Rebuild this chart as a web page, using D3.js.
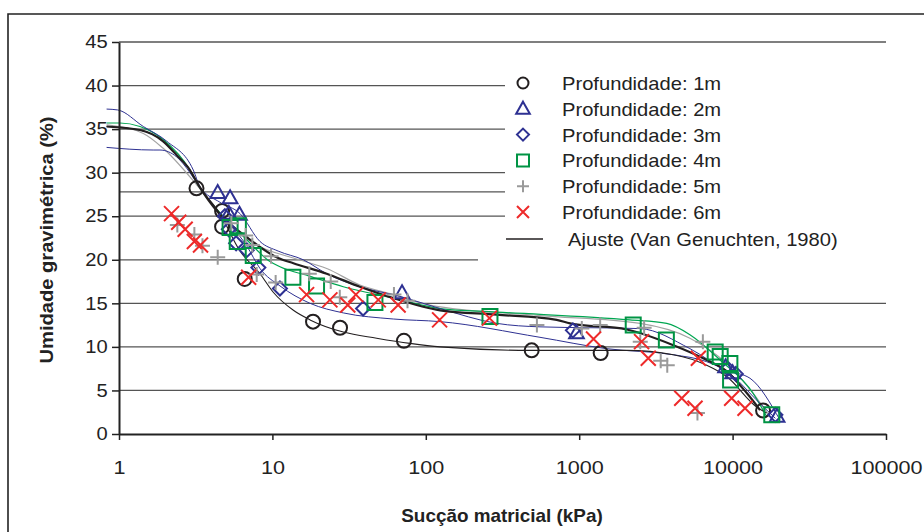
<!DOCTYPE html>
<html>
<head>
<meta charset="utf-8">
<script src="https://cdn.jsdelivr.net/npm/d3@7"></script>
<style>
  body { margin: 0; background: #fff; }
  svg { display: block; font-family: "Liberation Sans", Arial, sans-serif; }
</style>
</head>
<body>
<svg id="chart" width="924" height="532"></svg>
<script>
// measured points [suction kPa, moisture %]
var depth1 = [[3.2,28.2],[4.7,25.6],[4.7,23.8],[6.6,17.8],[18.4,12.9],[27.6,12.2],[72,10.7],[490,9.6],[1380,9.3],[15800,2.7]];
var depth2 = [[4.4,27.7],[5.3,27.1],[5.2,25.3],[6.1,25.2],[70,16.2],[960,11.6],[9000,7.7],[10000,7.0],[19500,2.0]];
var depth3 = [[4.9,25.0],[5.2,23.5],[5.8,21.9],[6.8,21.1],[8.1,19.1],[11.2,16.7],[39,14.4],[910,11.9],[9300,7.5],[10500,6.9],[19000,2.2]];
var depth4 = [[5.3,23.7],[6.0,23.9],[5.9,22.1],[7.5,20.5],[13.6,18.0],[19.4,17.0],[46.6,15.1],[262,13.5],[2250,12.5],[3700,10.8],[7700,9.4],[8300,8.9],[9600,8.1],[9700,6.2],[18000,2.2]];
var depth5 = [[2.4,24.0],[3.1,22.9],[3.5,21.6],[4.4,20.3],[5.4,24.2],[6.7,22.8],[7.4,21.7],[9.8,20.4],[7.9,18.3],[10.5,17.4],[17.4,18.4],[24,17.5],[27.5,15.7],[62,16.0],[76,15.3],[530,12.5],[1040,12.1],[1370,12.5],[2650,12.2],[2500,10.6],[3400,8.4],[3750,7.9],[6400,10.6],[5900,2.4]];
var depth6 = [[2.2,25.3],[2.45,24.3],[2.7,23.5],[3.1,22.1],[3.4,21.7],[7.0,18.0],[16.7,16.0],[23.7,15.4],[31,14.8],[35,16.0],[49,15.4],[66,14.8],[123,13.1],[260,13.3],[1240,10.9],[2550,10.6],[2820,8.7],[5980,8.7],[4660,4.1],[5690,2.95],[9860,4.1],[12050,2.95]];

// fitted curves (Van Genuchten)
var fit1m = [[0.83,35.3],[1.37,34.9],[1.94,33.6],[2.38,32.0],[2.9,30.3],[3.29,28.6],[4.55,25.3],[6.15,21.0],[8.3,18.4],[10.1,16.3],[13.7,14.2],[17.6,13.1],[29,11.7],[47.8,11.0],[78.8,10.4],[124,10.0],[478,9.6],[2040,9.6],[4110,9.1],[6780,7.9],[9150,6.6],[14350,3.1],[16680,2.4]];
var fit2m = [[0.83,37.3],[0.98,37.2],[1.44,35.3],[2.05,33.6],[3.05,30.3],[3.37,28.4],[4.55,26.6],[6.15,25.3],[8.3,22.1],[10.9,21.0],[15.9,20.0],[22.6,18.4],[37.2,16.9],[67.9,15.8],[124,14.4],[290,12.7],[555,12.3],[2490,12.1],[5270,9.8],[9150,7.3],[12980,6.4],[20370,1.6]];
var fit3m = [[0.83,32.9],[1.67,32.6],[1.85,32.6],[2.38,31.8],[2.9,30.0],[3.3,28.5],[4.55,25.3],[6.8,21.6],[8.3,19.0],[11.2,17.0],[17.6,15.0],[29,13.9],[61.4,13.2],[124,12.9],[555,11.1],[1500,9.8],[4110,9.1],[6780,8.3],[9150,7.2],[15090,3.5],[19000,1.8]];
var fit4m = [[0.83,35.7],[1.015,35.7],[1.37,35.3],[1.94,33.8],[2.9,30.3],[3.3,28.5],[4.55,25.4],[6.8,22.3],[9.64,19.8],[11.2,19.2],[17.6,18.1],[29,16.9],[61.4,15.6],[124,14.4],[290,14.0],[2140,13.1],[3720,12.7],[5270,11.4],[8280,8.5],[13580,4.7],[16680,2.0]];
var fit5m = [[0.83,35.5],[1.44,34.5],[1.94,32.8],[3.21,28.6],[4.55,25.3],[6.8,22.4],[8.3,21.5],[13.7,20.2],[22.6,19.0],[37.2,17.1],[61.4,16.0],[106,14.8],[555,13.6],[2490,12.7],[5270,11.0],[9150,8.1],[13580,4.7],[17500,2.0]];
var fitAll = [[0.83,35.3],[1.37,34.9],[1.94,33.6],[2.38,32.0],[2.9,30.3],[3.29,28.6],[4.55,25.2],[6.8,22.6],[10.9,20.2],[13.7,19.6],[22.6,18.4],[37.2,16.9],[61.4,15.6],[124,14.2],[290,13.7],[713,13.1],[871,12.7],[2040,12.0],[4110,10.2],[6780,8.5],[9150,7.2],[12370,4.7],[15090,2.75]];

var xTicks = [1, 10, 100, 1000, 10000, 100000];
var yTicks = [0, 5, 10, 15, 20, 25, 30, 35, 40, 45];
var extraLine = [27.8];
var legendLabels = ["Profundidade: 1m", "Profundidade: 2m", "Profundidade: 3m", "Profundidade: 4m", "Profundidade: 5m", "Profundidade: 6m"];
var fitLabel = "Ajuste (Van Genuchten, 1980)";
var xTitle = "Sucção matricial (kPa)";
var yTitle = "Umidade gravimétrica (%)";

var svg = d3.select("#chart");

var x = d3.scaleLog().domain([1, 100000]).range([119, 886]);
var y = d3.scaleLinear().domain([0, 45]).range([434, 42]);

// outer frame
svg.append("path")
    .attr("d", "M8,540 L8,14 L930,14")
    .attr("fill", "none")
    .attr("stroke", "#222")
    .attr("stroke-width", 1.6);

// gridlines
svg.append("g").selectAll("line")
    .data(yTicks.filter(function(d) { return d > 0; }))
    .enter().append("line")
    .attr("x1", x(1)).attr("x2", x(100000))
    .attr("y1", function(d) { return y(d); })
    .attr("y2", function(d) { return y(d); })
    .attr("stroke", "#555")
    .attr("stroke-width", 1.3);

svg.append("g").selectAll("line")
    .data(extraLine)
    .enter().append("line")
    .attr("x1", x(1)).attr("x2", 505)
    .attr("y1", function(d) { return y(d); })
    .attr("y2", function(d) { return y(d); })
    .attr("stroke", "#555")
    .attr("stroke-width", 1.3);

// legend background hides the grid
svg.append("rect").attr("x", 505).attr("y", 62).attr("width", 382).attr("height", 192).attr("fill", "#fff");
svg.append("rect").attr("x", 478).attr("y", 253).attr("width", 409).attr("height", 12).attr("fill", "#fff");

// curves
var line = d3.line()
    .x(function(d) { return x(d[0]); })
    .y(function(d) { return y(d[1]); })
    .curve(d3.curveMonotoneX);

var curves = [
    {data: fit5m, color: "#a3a3a3", w: 1.2},
    {data: fit4m, color: "#00a651", w: 1.2},
    {data: fit3m, color: "#2e3192", w: 1},
    {data: fit2m, color: "#2e3192", w: 1},
    {data: fit1m, color: "#231f20", w: 1.1},
    {data: fitAll, color: "#231f20", w: 2.2}
];
curves.forEach(function(c) {
    svg.append("path")
        .datum(c.data)
        .attr("fill", "none")
        .attr("stroke", c.color)
        .attr("stroke-width", c.w)
        .attr("stroke-linejoin", "round")
        .attr("d", line);
});

// axes
var xAxis = svg.append("g")
    .attr("transform", "translate(0,434)")
    .call(d3.axisBottom(x).tickValues(xTicks).tickFormat(d3.format("d")).tickSize(6).tickSizeOuter(0).tickPadding(21));
var yAxis = svg.append("g")
    .attr("transform", "translate(119,0)")
    .call(d3.axisLeft(y).tickValues(yTicks).tickSize(7).tickSizeOuter(0).tickPadding(3));

[xAxis, yAxis].forEach(function(a) {
    a.select(".domain").attr("stroke", "#222").attr("stroke-width", 2);
    a.selectAll(".tick line").attr("stroke", "#222").attr("stroke-width", 1.5);
    a.selectAll(".tick text")
        .attr("fill", "#222")
        .style("font-family", "'Liberation Sans', Arial, sans-serif")
        .style("font-size", "18px");
});
xAxis.selectAll(".tick text").attr("transform", "scale(1.2,1)");
yAxis.selectAll(".tick text").attr("transform", "scale(1.12,1)");

// markers
function shape(type, s) {
    var p = d3.path();
    if (type === "circle") {
        p.moveTo(s, 0); p.arc(0, 0, s, 0, 2 * Math.PI);
    } else if (type === "triangle") {
        p.moveTo(0, -s * 1.1); p.lineTo(s * 1.05, s * 0.75); p.lineTo(-s * 1.05, s * 0.75); p.closePath();
    } else if (type === "diamond") {
        p.moveTo(0, -s); p.lineTo(s, 0); p.lineTo(0, s); p.lineTo(-s, 0); p.closePath();
    } else if (type === "square") {
        p.rect(-s, -s, 2 * s, 2 * s);
    } else if (type === "plus") {
        p.moveTo(-s, 0); p.lineTo(s, 0); p.moveTo(0, -s); p.lineTo(0, s);
    } else {
        p.moveTo(-s, -s); p.lineTo(s, s); p.moveTo(s, -s); p.lineTo(-s, s);
    }
    return p.toString();
}

var series = [
    {data: depth1, type: "circle", color: "#231f20", s: 7, ls: 5.5},
    {data: depth2, type: "triangle", color: "#2e3192", s: 7, ls: 6.5},
    {data: depth3, type: "diamond", color: "#2e3192", s: 7, ls: 6},
    {data: depth4, type: "square", color: "#009444", s: 7.5, ls: 6},
    {data: depth5, type: "plus", color: "#9a9a9a", s: 7.5, ls: 6},
    {data: depth6, type: "x", color: "#ee2a2a", s: 7.5, ls: 6}
];

series.forEach(function(sr) {
    svg.append("g").selectAll("path")
        .data(sr.data)
        .enter().append("path")
        .attr("transform", function(d) { return "translate(" + x(d[0]) + "," + y(d[1]) + ")"; })
        .attr("d", shape(sr.type, sr.s))
        .attr("fill", "none")
        .attr("stroke", sr.color)
        .attr("stroke-width", 2);
});

// legend
var legend = svg.append("g");
series.forEach(function(sr, i) {
    var by = 90 + i * 25.8;
    legend.append("path")
        .attr("transform", "translate(523," + (by - 7) + ")")
        .attr("d", shape(sr.type, sr.ls))
        .attr("fill", "none")
        .attr("stroke", sr.color)
        .attr("stroke-width", 2);
    legend.append("text")
        .attr("transform", "translate(562," + by + ") scale(1.12,1)")
        .style("font-size", "18px")
        .attr("fill", "#222")
        .text(legendLabels[i]);
});
legend.append("line")
    .attr("x1", 506).attr("x2", 543).attr("y1", 239).attr("y2", 239)
    .attr("stroke", "#231f20").attr("stroke-width", 1.5);
legend.append("text")
    .attr("transform", "translate(568,246) scale(1.12,1)")
    .style("font-size", "18px")
    .attr("fill", "#222")
    .text(fitLabel);

// axis titles
svg.append("text")
    .attr("transform", "translate(502,522) scale(1.05,1)")
    .attr("text-anchor", "middle")
    .style("font-size", "18px")
    .style("font-weight", "bold")
    .attr("fill", "#222")
    .text(xTitle);

svg.append("text")
    .attr("transform", "translate(53,240) rotate(-90) scale(1.15,1)")
    .attr("text-anchor", "middle")
    .style("font-size", "17.5px")
    .style("font-weight", "bold")
    .attr("fill", "#222")
    .text(yTitle);
</script>
</body>
</html>
